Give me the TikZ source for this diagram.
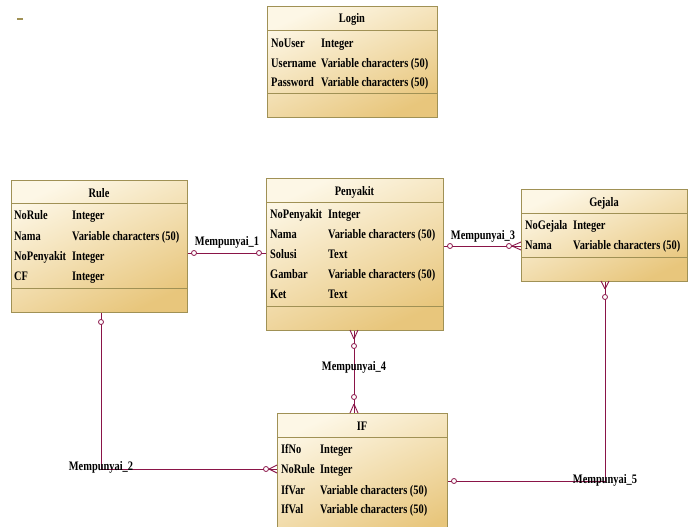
\documentclass[tikz,border=0pt]{standalone}
\usepackage{fontspec}
\newfontfamily\erfont{Liberation Serif}[FakeStretch=0.8]
\usetikzlibrary{calc}
\definecolor{relc}{RGB}{138,20,72}
\definecolor{boxb}{RGB}{160,145,85}
\definecolor{boxl}{RGB}{253,247,230}
\definecolor{boxd}{RGB}{232,198,124}
\tikzset{
  ent/.style={draw=boxb, line width=1.1pt, rectangle, inner sep=0pt,
    top color=boxl, bottom color=boxd, shading angle=25, anchor=north west},
  sep/.style={draw=boxb, line width=1pt},
  txt/.style={anchor=base west, inner sep=0pt, font=\erfont\bfseries\fontsize{13}{15}\selectfont, text=black},
  ttl/.style={anchor=base, inner sep=0pt, font=\erfont\bfseries\fontsize{13}{15}\selectfont, text=black},
  lbl/.style={inner sep=0pt, font=\erfont\bfseries\fontsize{13}{15}\selectfont, text=black},
  rel/.style={draw=relc, line width=0.9pt},
  oc/.style={draw=relc, line width=0.8pt, fill=white, circle, inner sep=0pt, minimum size=5pt},
}
\begin{document}
\begin{tikzpicture}[x=1pt,y=-1pt]
\clip (0,0) rectangle (694,527);
\fill[white] (0,0) rectangle (694,527);
\draw[boxb, line width=1.2pt] (17,19) -- (23,19);

% ---------- Login ----------
\node[ent, minimum width=170pt, minimum height=111pt] (login) at (267,6) {};
\draw[sep] (267,31) -- (437,31);
\draw[sep] (267,94) -- (437,94);
\node[ttl] (loginT) at (352,22.5) {Login};
\node[txt] (l1a) at (271,47.5) {NoUser};
\node[txt] (l1b) at (321,47.5) {Integer};
\node[txt] (l2a) at (271,67.5) {Username};
\node[txt] (l2b) at (321,67.5) {Variable characters (50)};
\node[txt] (l3a) at (271,86.5) {Password};
\node[txt] (l3b) at (321,86.5) {Variable characters (50)};

% ---------- Rule ----------
\node[ent, minimum width=176pt, minimum height=132pt] (rule) at (11,180) {};
\draw[sep] (11,203) -- (187,203);
\draw[sep] (11,288) -- (187,288);
\node[ttl] (ruleT) at (99,197.5) {Rule};
\node[txt] (r1a) at (14,219.5) {NoRule};
\node[txt] (r1b) at (72,219.5) {Integer};
\node[txt] (r2a) at (14,240.5) {Nama};
\node[txt] (r2b) at (72,240.5) {Variable characters (50)};
\node[txt] (r3a) at (14,260.5) {NoPenyakit};
\node[txt] (r3b) at (72,260.5) {Integer};
\node[txt] (r4a) at (14,280.5) {CF};
\node[txt] (r4b) at (72,280.5) {Integer};

% ---------- Penyakit ----------
\node[ent, minimum width=177pt, minimum height=152pt] (peny) at (266,178) {};
\draw[sep] (266,202) -- (443,202);
\draw[sep] (266,306) -- (443,306);
\node[ttl] (penyT) at (354.5,195.5) {Penyakit};
\node[txt] (p1a) at (270,218.5) {NoPenyakit};
\node[txt] (p1b) at (328,218.5) {Integer};
\node[txt] (p2a) at (270,238.5) {Nama};
\node[txt] (p2b) at (328,238.5) {Variable characters (50)};
\node[txt] (p3a) at (270,258.5) {Solusi};
\node[txt] (p3b) at (328,258.5) {Text};
\node[txt] (p4a) at (270,278.5) {Gambar};
\node[txt] (p4b) at (328,278.5) {Variable characters (50)};
\node[txt] (p5a) at (270,298.5) {Ket};
\node[txt] (p5b) at (328,298.5) {Text};

% ---------- Gejala ----------
\node[ent, minimum width=166pt, minimum height=92pt] (gej) at (521,189) {};
\draw[sep] (521,213) -- (687,213);
\draw[sep] (521,257) -- (687,257);
\node[ttl] (gejT) at (604,206.5) {Gejala};
\node[txt] (g1a) at (525,229.5) {NoGejala};
\node[txt] (g1b) at (573,229.5) {Integer};
\node[txt] (g2a) at (525,249.5) {Nama};
\node[txt] (g2b) at (573,249.5) {Variable characters (50)};

% ---------- IF ----------
\node[ent, minimum width=170pt, minimum height=130pt] (ifb) at (277,413) {};
\draw[sep] (277,437) -- (447,437);
\node[ttl] (ifT) at (362,430.5) {IF};
\node[txt] (i1a) at (281,453.5) {IfNo};
\node[txt] (i1b) at (320,453.5) {Integer};
\node[txt] (i2a) at (281,473.5) {NoRule};
\node[txt] (i2b) at (320,473.5) {Integer};
\node[txt] (i3a) at (281,494) {IfVar};
\node[txt] (i3b) at (320,494) {Variable characters (50)};
\node[txt] (i4a) at (281,513.5) {IfVal};
\node[txt] (i4b) at (320,513.5) {Variable characters (50)};

% ---------- Mempunyai_1 ----------
\draw[rel] (rule.east |- 0,253) -- (peny.west |- 0,253);
\node[oc] (m1c1) at (194,253) {};
\node[oc] (m1c2) at (259,253) {};
\node[lbl] (m1) at (227,242) {Mempunyai\_1};

% ---------- Mempunyai_3 ----------
\draw[rel] (peny.east |- 0,246) -- (gej.west |- 0,246);
\draw[rel] (512,246) -- (gej.west |- 0,242);
\draw[rel] (512,246) -- (gej.west |- 0,250);
\node[oc] (m3c1) at (450,246) {};
\node[oc] (m3c2) at (509,246) {};
\node[lbl] (m3) at (483,236) {Mempunyai\_3};

% ---------- Mempunyai_4 ----------
\draw[rel] (peny.south -| 354,0) -- (ifb.north -| 354,0);
\draw[rel] (354,339) -- (350,330);
\draw[rel] (354,339) -- (358,330);
\draw[rel] (354,404) -- (350,413);
\draw[rel] (354,404) -- (358,413);
\node[oc] (m4c1) at (354,346) {};
\node[oc] (m4c2) at (354,397) {};
\node[lbl] (m4) at (354,367) {Mempunyai\_4};

% ---------- Mempunyai_2 ----------
\coordinate (m2k) at (101,469);
\draw[rel] (rule.south -| 101,0) -- (m2k) -- (ifb.west |- m2k);
\draw[rel] (269,469) -- (277,465);
\draw[rel] (269,469) -- (277,473);
\node[oc] (m2c1) at (101,322) {};
\node[oc] (m2c2) at (266,469) {};
\node[lbl] (m2) at (101,467) {Mempunyai\_2};

% ---------- Mempunyai_5 ----------
\coordinate (m5k) at (605,481);
\draw[rel] (gej.south -| 605,0) -- (m5k) -- (ifb.east |- m5k);
\draw[rel] (605,289) -- (601,281);
\draw[rel] (605,289) -- (609,281);
\node[oc] (m5c1) at (605,297) {};
\node[oc] (m5c2) at (454,481) {};
\node[lbl] (m5) at (605,480) {Mempunyai\_5};
\end{tikzpicture}
\end{document}
